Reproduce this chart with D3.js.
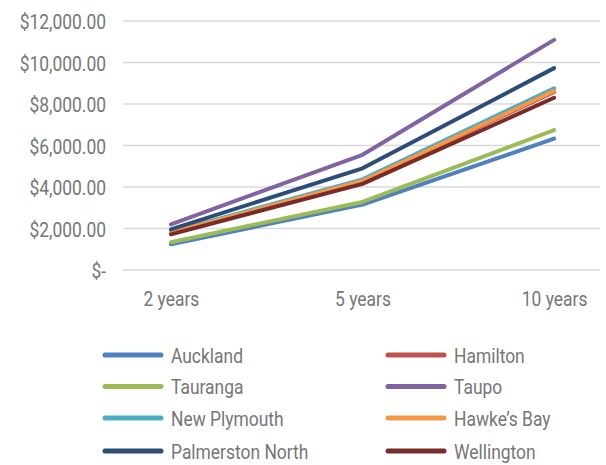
<!DOCTYPE html>
<html>
<head>
<meta charset="utf-8">
<script src="https://cdn.jsdelivr.net/npm/d3@7"></script>
<style>
  body { margin: 0; background: #fff; }
  text { font-family: Roboto, "Liberation Sans", sans-serif; fill: #767676; }
</style>
</head>
<body>
<script>
"use strict";
(function(){

    const periods = ["2 years", "5 years", "10 years"]
    const cities = ["Auckland", "Hamilton", "Tauranga", "Taupo", "New Plymouth", "Hawke\u2019s Bay", "Palmerston North", "Wellington"]
    const auckland = [1240, 3150, 6330]
    const hamilton = [1780, 4250, 8580]
    const tauranga = [1340, 3280, 6740]
    const taupo = [2200, 5550, 11090]
    const newPlymouth = [1830, 4370, 8760]
    const hawkesBay = [1800, 4290, 8630]
    const palmerstonNorth = [1960, 4900, 9730]
    const wellington = [1720, 4150, 8300]
    const yTicks = [0, 2000, 4000, 6000, 8000, 10000, 12000]

    const colors = {
        "Auckland": "#4F81BD",
        "Hamilton": "#C0504D",
        "Tauranga": "#9BBB59",
        "Taupo": "#8064A2",
        "New Plymouth": "#4BACC6",
        "Hawke\u2019s Bay": "#F79646",
        "Palmerston North": "#2C4D75",
        "Wellington": "#772C2A"
    }

    const series = [auckland, hamilton, tauranga, taupo, newPlymouth, hawkesBay, palmerstonNorth, wellington]
        .map((values, i) => ({ name: cities[i], values: values }))

    const measurements = {
        width: 606,
        height: 465,
        left: 123,
        right: 600,
        top: 21,
        bottom: 270
    }
    const squeeze = 'scale(0.83,1)'

    const svg = d3.select('body').append("svg")
        .attr('width', measurements.width)
        .attr('height', measurements.height)

    const scaleX = d3.scalePoint()
        .domain(periods)
        .range([measurements.left, measurements.right + 2])
        .padding(0.25)

    const scaleY = d3.scaleLinear()
        .domain([0, 12000])
        .range([measurements.bottom, measurements.top])

    // gridlines
    svg.append('g')
        .selectAll('line')
        .data(yTicks)
        .enter()
        .append('line')
            .attr('x1', measurements.left)
            .attr('x2', measurements.right)
            .attr('y1', d => scaleY(d))
            .attr('y2', d => scaleY(d))
            .attr('stroke', '#d9d9d9')
            .attr('stroke-width', 1.5)

    const fmt = d3.format(",.2f")
    const yAxis = d3.axisLeft(scaleY)
        .tickValues(yTicks)
        .tickSize(0)
        .tickPadding(0)
        .tickFormat(d => d === 0 ? "$-" : "$" + fmt(d))

    const yG = svg.append('g')
        .attr('transform', 'translate(106,0)')
        .call(yAxis)
    yG.select('.domain').remove()
    yG.selectAll('text')
        .style('font-size', '21px')
        .attr('dy', '0.36em')
        .attr('transform', squeeze)

    const xAxis = d3.axisBottom(scaleX)
        .tickSize(0)
        .tickPadding(0)

    const xG = svg.append('g')
        .attr('transform', 'translate(0,' + 291 + ')')
        .call(xAxis)
    xG.select('.domain').remove()
    xG.selectAll('text')
        .style('font-size', '21px')
        .attr('dy', '0.71em')
        .attr('transform', squeeze)

    const line = d3.line()
        .x((d, i) => scaleX(periods[i]))
        .y(d => scaleY(d))

    svg.append('g')
        .selectAll('path')
        .data(series)
        .enter()
        .append('path')
            .attr('d', d => line(d.values))
            .attr('fill', 'none')
            .attr('stroke', d => colors[d.name])
            .attr('stroke-width', 4)
            .attr('stroke-linecap', 'round')
            .attr('stroke-linejoin', 'round')

    // legend, two columns
    const legendRows = [355, 386.5, 418, 451]
    const legendCols = [105, 388]
    const legend = svg.append('g')
        .selectAll('g')
        .data(series)
        .enter()
        .append('g')
            .attr('transform', (d, i) => 'translate(' + legendCols[i % 2] + ',' + legendRows[Math.floor(i / 2)] + ')')

    legend.append('line')
        .attr('x1', 0)
        .attr('x2', 56)
        .attr('stroke', d => colors[d.name])
        .attr('stroke-width', 5)
        .attr('stroke-linecap', 'round')

    legend.append('text')
        .attr('transform', 'translate(66,0) ' + squeeze)
        .attr('dy', '0.36em')
        .style('font-size', '21px')
        .text(d => d.name)
})()
</script>
</body>
</html>
